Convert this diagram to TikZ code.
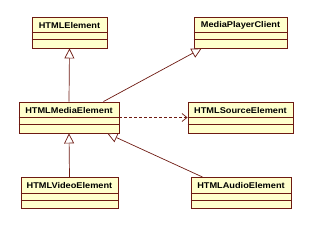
\documentclass[tikz,border=0pt]{standalone}
\usepackage{fontspec}
\setmainfont{Liberation Sans}
\newfontfamily\umlfont[FakeStretch=1.1]{Liberation Sans}
\usetikzlibrary{arrows.meta}
\definecolor{umlborder}{HTML}{6E1A12}
\definecolor{umlfill}{HTML}{FFFFCC}
\tikzset{
  cls/.style={draw=umlborder, fill=umlfill, line width=0.9bp, inner sep=0pt, minimum height=31bp},
  ttl/.style={font=\umlfont\bfseries\fontsize{8.4}{10}\selectfont, inner sep=0pt, anchor=center},
  gen/.style={draw=umlborder, line width=0.7bp, -{Triangle[open, length=10bp, width=10bp, fill=white]}},
  dep/.style={draw=umlborder, line width=0.7bp, dashed, dash pattern=on 3bp off 2bp, -{Straight Barb[length=5bp, width=8bp]}},
  cmp/.style={draw=umlborder, line width=0.7bp}
}
\newcommand{\umlclass}[5]{%
  \node[cls, minimum width=#4bp] (#1) at (#2,#3) {};
  \node[ttl] (#1-t) at ([yshift=-8.5bp]#1.north) {#5};
  \draw[cmp] ([yshift=-16bp]#1.north west) -- ([yshift=-16bp]#1.north east);
  \draw[cmp] ([yshift=-23bp]#1.north west) -- ([yshift=-23bp]#1.north east);
}
\begin{document}
\begin{tikzpicture}[x=1bp, y=-1bp]
\useasboundingbox (0,0) rectangle (313,227);
\umlclass{he}{69.5}{32.5}{75}{HTMLElement}
\umlclass{mpc}{240.5}{32.5}{93}{MediaPlayerClient}
\umlclass{hme}{69}{117.5}{100}{HTMLMediaElement}
\umlclass{hse}{240.5}{117.5}{105}{HTMLSourceElement}
\umlclass{hve}{69.5}{193}{97}{HTMLVideoElement}
\umlclass{hae}{241}{193}{100}{HTMLAudioElement}
\draw[gen] (hme.north) -- (he.south);
\draw[gen] ([xshift=-16bp]hme.north east) -- ([xshift=8bp]mpc.south west);
\draw[dep] (hme.east) -- (hse.west);
\draw[gen] (hve.north) -- (hme.south);
\draw[gen] ([xshift=12bp]hae.north west) -- ([xshift=-12bp]hme.south east);
\end{tikzpicture}
\end{document}
